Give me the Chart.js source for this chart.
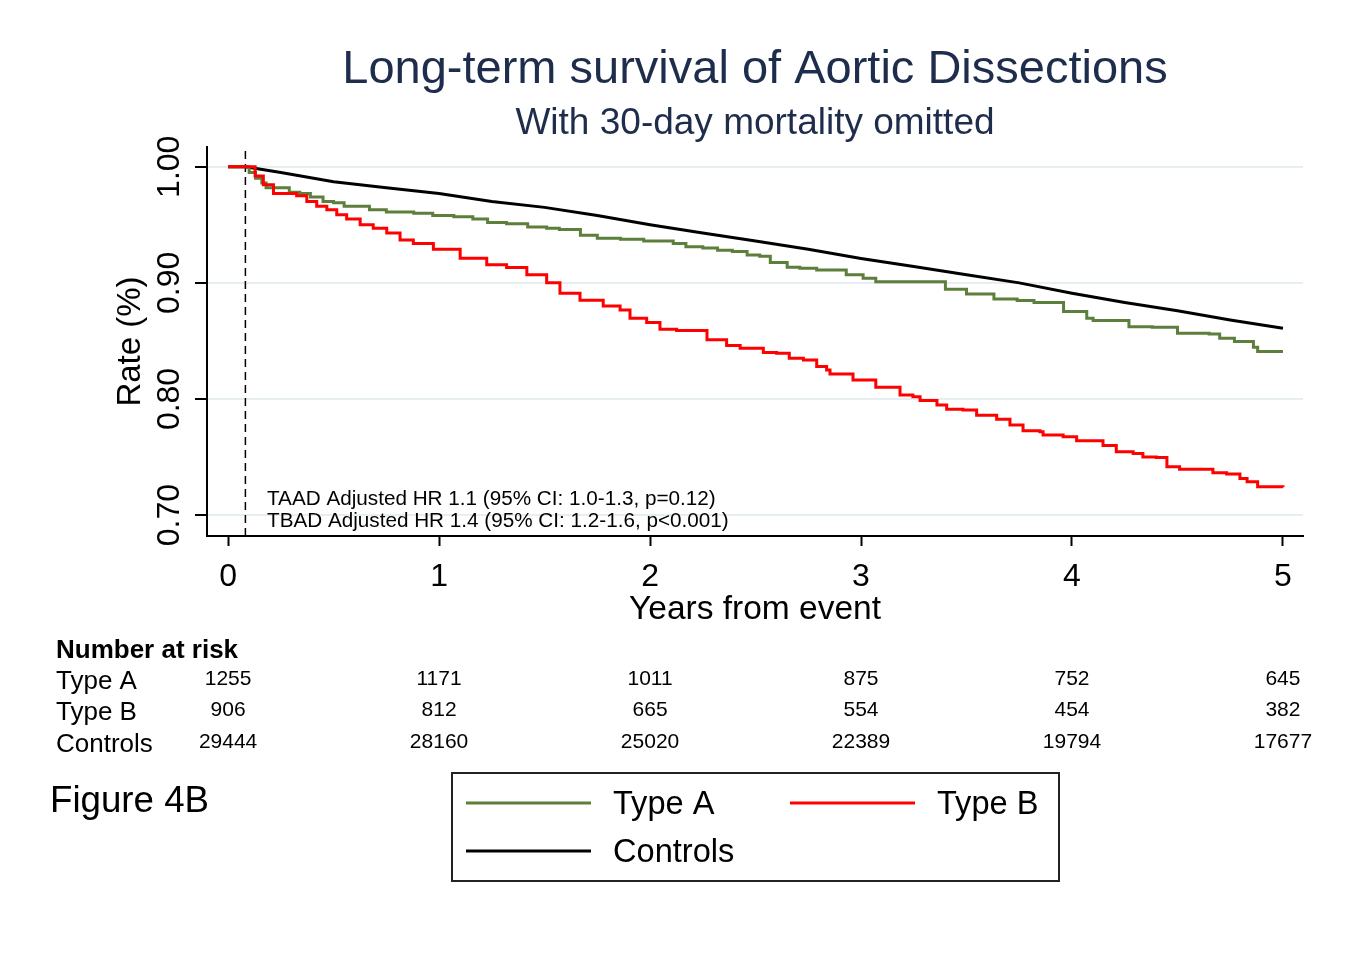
<!DOCTYPE html>
<html lang="en">
<head>
  <meta charset="UTF-8" />
  <title>Long-term survival of Aortic Dissections</title>
  <script src="https://cdn.jsdelivr.net/npm/chart.js"></script>
  <style>
    body {
      margin: 0;
      padding: 0;
      background: #ffffff;
      overflow: hidden;
    }
    .wrap {
      width: 1345px;
      height: 973px;
      position: relative;
    }
  </style>
</head>
<body>
  <div class="wrap">
    <canvas id="km"></canvas>
  </div>

  <script>
    // Kaplan-Meier steps (time in years, survival after the step)
    const typeATimes = [0, 0.082, 0.10, 0.13, 0.16, 0.18, 0.29, 0.34, 0.39, 0.45, 0.50, 0.55, 0.67, 0.75, 0.88, 0.97, 1.07, 1.16, 1.23, 1.32, 1.42, 1.51, 1.57, 1.67, 1.75, 1.86, 1.97, 2.11, 2.17, 2.25, 2.32, 2.39, 2.46, 2.52, 2.57, 2.65, 2.71, 2.79, 2.93, 3.01, 3.07, 3.40, 3.50, 3.63, 3.74, 3.82, 3.96, 4.07, 4.10, 4.27, 4.38, 4.50, 4.65, 4.70, 4.77, 4.86, 4.88, 5.0];
    const typeAValues = [1, 1, 0.995, 0.990, 0.986, 0.982, 0.978, 0.977, 0.974, 0.970, 0.969, 0.966, 0.963, 0.961, 0.960, 0.958, 0.957, 0.955, 0.952, 0.951, 0.948, 0.947, 0.946, 0.941, 0.9385, 0.9376, 0.936, 0.934, 0.931, 0.930, 0.928, 0.927, 0.924, 0.923, 0.9175, 0.9135, 0.9126, 0.911, 0.907, 0.904, 0.901, 0.8946, 0.8905, 0.886, 0.8848, 0.883, 0.8753, 0.8696, 0.8675, 0.8623, 0.8618, 0.8566, 0.856, 0.8523, 0.8494, 0.8446, 0.8408, 0.8408];

    const typeBTimes = [0, 0.082, 0.128, 0.167, 0.215, 0.325, 0.373, 0.42, 0.468, 0.515, 0.562, 0.626, 0.688, 0.752, 0.815, 0.878, 0.973, 1.10, 1.226, 1.32, 1.416, 1.51, 1.573, 1.668, 1.778, 1.858, 1.905, 1.984, 2.047, 2.126, 2.27, 2.363, 2.427, 2.537, 2.60, 2.66, 2.727, 2.79, 2.837, 2.853, 2.962, 3.07, 3.185, 3.246, 3.28, 3.36, 3.406, 3.483, 3.548, 3.643, 3.706, 3.768, 3.848, 3.863, 3.958, 4.022, 4.147, 4.21, 4.29, 4.336, 4.40, 4.45, 4.51, 4.668, 4.733, 4.796, 4.83, 4.88, 5.0];
    const typeBValues = [1, 1, 0.992, 0.9845, 0.977, 0.975, 0.970, 0.966, 0.963, 0.9586, 0.955, 0.950, 0.947, 0.943, 0.937, 0.934, 0.929, 0.9213, 0.9155, 0.9132, 0.907, 0.900, 0.891, 0.885, 0.880, 0.8767, 0.8696, 0.8658, 0.860, 0.859, 0.851, 0.846, 0.8437, 0.840, 0.8394, 0.835, 0.8336, 0.828, 0.825, 0.8216, 0.8164, 0.810, 0.8034, 0.802, 0.7986, 0.7948, 0.7911, 0.7905, 0.786, 0.7825, 0.7776, 0.7727, 0.7718, 0.769, 0.7675, 0.764, 0.760, 0.7546, 0.753, 0.750, 0.7497, 0.7416, 0.7394, 0.7365, 0.7353, 0.7315, 0.7287, 0.7244, 0.7239];

    const controlTimes = [0, 0.082, 0.25, 0.5, 0.75, 1.0, 1.25, 1.5, 1.75, 2.0, 2.25, 2.5, 2.75, 3.0, 3.25, 3.5, 3.75, 4.0, 4.25, 4.5, 4.75, 5.0];
    const controlValues = [1, 1, 0.995, 0.987, 0.982, 0.977, 0.970, 0.965, 0.958, 0.950, 0.943, 0.936, 0.929, 0.921, 0.914, 0.907, 0.900, 0.891, 0.883, 0.876, 0.868, 0.861];

    // 30-day landmark
    const landmarkX = [0.082, 0.082];
    const landmarkY = [0.682, 1.015];

    const xTicks = [0, 1, 2, 3, 4, 5];
    const yTicks = [0.70, 0.80, 0.90, 1.00];
    const yTickLabels = ['0.70', '0.80', '0.90', '1.00'];

    const riskGroups = ['Type A', 'Type B', 'Controls'];
    const riskTypeA = [1255, 1171, 1011, 875, 752, 645];
    const riskTypeB = [906, 812, 665, 554, 454, 382];
    const riskControls = [29444, 28160, 25020, 22389, 19794, 17677];

    const hrNotes = [
      'TAAD Adjusted HR 1.1 (95% CI: 1.0-1.3, p=0.12)',
      'TBAD Adjusted HR 1.4 (95% CI: 1.2-1.6, p<0.001)'
    ];

    const FONT = "'Liberation Sans', Arial, sans-serif";
    Chart.defaults.font.family = FONT;
    Chart.defaults.color = '#000';

    const pts = (xs, ys) => xs.map((x, i) => ({ x: x, y: ys[i] }));

    const extras = {
      id: 'extras',
      afterDraw(chart) {
        const ctx = chart.ctx;
        const xs = chart.scales.x;
        const ys = chart.scales.y;
        ctx.save();
        ctx.fillStyle = '#000';

        // rotated y tick labels
        ctx.font = '32px ' + FONT;
        ctx.textAlign = 'center';
        ctx.textBaseline = 'middle';
        yTicks.forEach((v, i) => {
          ctx.save();
          ctx.translate(170, ys.getPixelForValue(v));
          ctx.rotate(-Math.PI / 2);
          ctx.fillText(yTickLabels[i], 0, 0);
          ctx.restore();
        });

        // hazard ratio notes
        ctx.font = '20.7px ' + FONT;
        ctx.textAlign = 'left';
        ctx.fillText(hrNotes[0], 267, 499);
        ctx.fillText(hrNotes[1], 267, 521);

        // number at risk table
        ctx.font = 'bold 26px ' + FONT;
        ctx.fillText('Number at risk', 56, 651);
        const rows = [riskTypeA, riskTypeB, riskControls];
        const rowY = [682, 713, 745];
        rows.forEach((row, r) => {
          ctx.font = '26px ' + FONT;
          ctx.textAlign = 'left';
          ctx.fillText(riskGroups[r], 56, rowY[r]);
          ctx.font = '21px ' + FONT;
          ctx.textAlign = 'center';
          row.forEach((n, i) => {
            ctx.fillText(String(n), xs.getPixelForValue(xTicks[i]), rowY[r] - 3);
          });
        });

        // figure label
        ctx.font = '36.7px ' + FONT;
        ctx.textAlign = 'left';
        ctx.fillText('Figure 4B', 50, 802);

        // legend box
        ctx.strokeStyle = '#222';
        ctx.lineWidth = 2;
        ctx.strokeRect(452, 773, 607, 108);
        const slots = [[466, 803], [790, 803], [466, 851]];
        ctx.font = '32.6px ' + FONT;
        chart.data.datasets.slice(0, 3).forEach((ds, i) => {
          const [lx, ly] = slots[i];
          ctx.strokeStyle = ds.borderColor;
          ctx.lineWidth = 3;
          ctx.beginPath();
          ctx.moveTo(lx, ly);
          ctx.lineTo(lx + 125, ly);
          ctx.stroke();
          ctx.fillStyle = '#000';
          ctx.textAlign = 'left';
          ctx.fillText(ds.label, lx + 147, ly + 2);
        });
        ctx.restore();
      }
    };

    new Chart(document.getElementById('km'), {
      type: 'line',
      data: {
        datasets: [
          {
            label: 'Type A',
            data: pts(typeATimes, typeAValues),
            borderColor: '#5c7f3b',
            borderWidth: 3,
            stepped: true,
            pointRadius: 0,
            order: 2
          },
          {
            label: 'Type B',
            data: pts(typeBTimes, typeBValues),
            borderColor: '#ff0000',
            borderWidth: 3,
            stepped: true,
            pointRadius: 0,
            order: 1
          },
          {
            label: 'Controls',
            data: pts(controlTimes, controlValues),
            borderColor: '#000000',
            borderWidth: 3,
            tension: 0,
            pointRadius: 0,
            order: 3
          },
          {
            label: '30 days',
            data: pts(landmarkX, landmarkY),
            borderColor: '#000000',
            borderWidth: 1.5,
            borderDash: [8, 5],
            pointRadius: 0,
            order: 4
          }
        ]
      },
      options: {
        responsive: true,
        maintainAspectRatio: false,
        animation: false,
        layout: {
          padding: { left: 100, right: 42, top: 0, bottom: 342 }
        },
        plugins: {
          legend: { display: false },
          tooltip: { enabled: false },
          title: {
            display: true,
            fullSize: false,
            text: 'Long-term survival of Aortic Dissections',
            color: '#1f2d4d',
            font: { size: 47, weight: 'normal' },
            padding: { top: 42, bottom: 0 }
          },
          subtitle: {
            display: true,
            fullSize: false,
            text: 'With 30-day mortality omitted',
            color: '#1f2d4d',
            font: { size: 37, weight: 'normal' },
            padding: { top: 2.8, bottom: 1.4 }
          }
        },
        scales: {
          x: {
            type: 'linear',
            min: -0.1,
            max: 5.095,
            afterBuildTicks: s => { s.ticks = xTicks.map(v => ({ value: v })); },
            afterFit: s => { s.height = 95; },
            ticks: {
              font: { size: 32 },
              padding: 12,
              color: '#000',
              maxRotation: 0
            },
            grid: {
              drawOnChartArea: false,
              tickLength: 10,
              tickColor: '#000',
              tickWidth: 2
            },
            border: { color: '#000', width: 2 },
            title: {
              display: true,
              text: 'Years from event',
              font: { size: 33.5 },
              color: '#000',
              padding: { top: 0, bottom: 1 }
            }
          },
          y: {
            type: 'linear',
            min: 0.682,
            max: 1.017,
            afterBuildTicks: s => { s.ticks = yTicks.map(v => ({ value: v })); },
            afterFit: s => { s.width = 107; },
            ticks: { display: false },
            grid: {
              color: '#e6eef1',
              lineWidth: 2,
              tickLength: 12,
              tickColor: '#000',
              tickWidth: 2
            },
            border: { color: '#000', width: 2 },
            title: {
              display: true,
              text: 'Rate (%)',
              font: { size: 33 },
              color: '#000',
              padding: { top: 11, bottom: 0 }
            }
          }
        }
      },
      plugins: [extras]
    });
  </script>
</body>
</html>
